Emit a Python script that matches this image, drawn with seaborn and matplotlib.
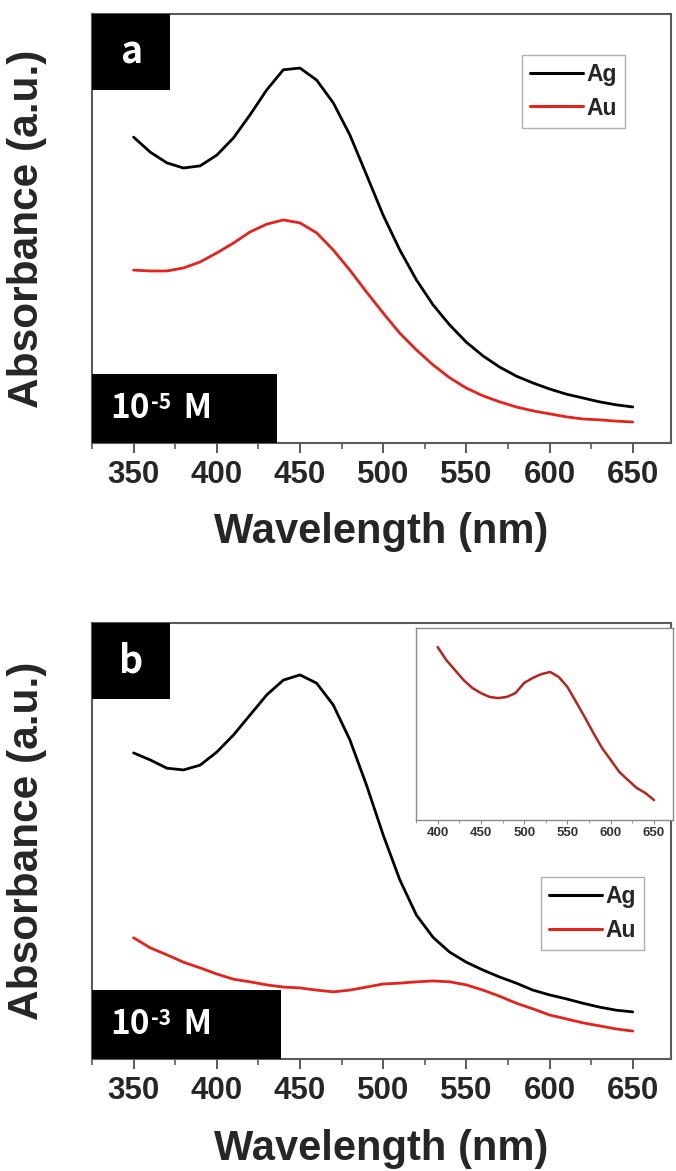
import matplotlib
matplotlib.use("Agg")
import matplotlib.pyplot as plt
import seaborn as sns
import pandas as pd
from matplotlib.patches import Rectangle
from matplotlib.ticker import MultipleLocator

# ---------------- data (arbitrary units) ----------------
wavelength = [350, 360, 370, 380, 390, 400, 410, 420, 430, 440, 450, 460, 470, 480, 490,
              500, 510, 520, 530, 540, 550, 560, 570, 580, 590, 600, 610, 620, 630, 640, 650]

a_ag = [71.3, 67.8, 65.3, 64.1, 64.6, 67.1, 71.1, 76.5, 82.3, 87.0, 87.4, 84.6, 79.3, 71.8, 62.5,
        53.1, 45.0, 38.0, 32.2, 27.5, 23.5, 20.3, 17.7, 15.6, 14.0, 12.6, 11.4, 10.5, 9.6, 8.9, 8.4]
a_au = [40.3, 40.1, 40.1, 40.8, 42.2, 44.3, 46.6, 49.2, 51.0, 52.0, 51.3, 49.0, 45.0, 40.3, 35.2,
        30.3, 25.6, 21.7, 18.2, 15.2, 12.8, 11.0, 9.6, 8.4, 7.5, 6.8, 6.1, 5.6, 5.4, 5.1, 4.9]

b_ag = [70.2, 68.6, 66.7, 66.3, 67.4, 70.4, 74.3, 78.9, 83.5, 86.9, 88.1, 86.2, 81.2, 73.2, 62.8,
        51.4, 41.1, 33.0, 27.9, 24.5, 22.2, 20.4, 18.8, 17.4, 15.8, 14.7, 13.8, 12.8, 11.9, 11.2, 10.8]
b_au = [27.8, 25.5, 23.9, 22.2, 20.9, 19.5, 18.3, 17.7, 17.0, 16.5, 16.3, 15.8, 15.4, 15.8, 16.5,
        17.2, 17.4, 17.7, 17.9, 17.7, 17.0, 15.8, 14.4, 12.8, 11.5, 10.1, 9.2, 8.3, 7.6, 6.9, 6.4]

inset_wl = [400, 410, 420, 430, 440, 450, 460, 470, 480, 490, 500, 510, 520,
            530, 540, 550, 560, 570, 580, 590, 600, 610, 620, 630, 640, 650]
inset_au = [90.1, 83.3, 78.1, 72.9, 68.8, 66.1, 64.1, 63.5, 64.1, 66.1, 71.4, 74.0, 76.0,
            77.1, 74.5, 69.3, 61.5, 53.6, 45.3, 37.5, 31.3, 25.0, 20.8, 16.7, 14.1, 10.4]

metals = ["Ag", "Au"]
panel_labels = ["a", "b"]
conc_labels = [("10", "-5", " M"), ("10", "-3", " M")]
xticks = [350, 400, 450, 500, 550, 600, 650]
inset_xticks = [400, 450, 500, 550, 600, 650]

# ---------------- style ----------------
sns.set_style("ticks")
plt.rcParams["font.family"] = ["Liberation Sans", "DejaVu Sans"]
plt.rcParams["font.weight"] = "bold"
LABEL_FONT = ["Noto Sans CJK KR", "DejaVu Sans"]
RED = "#e3231c"
SPINE = "#5a5a5a"

fig = plt.figure(figsize=(6.76, 11.71), dpi=100)
W, H = 676, 1171


def px_axes(l, t, r, b):
    return fig.add_axes([l / W, 1 - b / H, (r - l) / W, (b - t) / H])


ax_a = px_axes(92, 14, 671, 443)
ax_b = px_axes(92, 623, 671, 1059)

panels = [
    (ax_a, a_ag, a_au, (0.92, 0.904)),
    (ax_b, b_ag, b_au, (0.953, 0.417)),
]

for i, (ax, ag, au, leg_pos) in enumerate(panels):
    df = pd.DataFrame({
        "Wavelength": wavelength * 2,
        "Absorbance": ag + au,
        "metal": ["Ag"] * len(wavelength) + ["Au"] * len(wavelength),
    })
    sns.lineplot(data=df, x="Wavelength", y="Absorbance", hue="metal",
                 palette={"Ag": "black", "Au": RED}, linewidth=2.0, ax=ax,
                 legend=False)
    ax.set_xlim(325, 673)
    ax.set_ylim(0, 100)
    ax.set_xticks(xticks)
    ax.xaxis.set_minor_locator(MultipleLocator(25))
    ax.set_yticks([])
    for s in ax.spines.values():
        s.set_color(SPINE)
        s.set_linewidth(1.5)
    ax.tick_params(axis="x", which="major", length=7, width=1.4, color=SPINE,
                   labelsize=22.5, pad=5, direction="out")
    ax.tick_params(axis="x", which="minor", length=4, width=1.2, color=SPINE,
                   direction="out")
    for lab in ax.get_xticklabels():
        lab.set_fontweight("bold")
    ax.set_xlabel("Wavelength (nm)", fontsize=30, fontweight="bold")
    ax.set_ylabel("Absorbance (a.u.)", fontsize=30.5, fontweight="bold")
    ax.xaxis.set_label_coords(0.5, -0.16)
    ax.yaxis.set_label_coords(-0.078, 0.5)

    # panel letter box
    hpan = 429 if i == 0 else 436
    ax.add_patch(Rectangle((0, 1 - 76 / hpan), 78 / 579, 76 / hpan, transform=ax.transAxes,
                           facecolor="black", edgecolor="none", zorder=5, clip_on=False))
    ax.text(39 / 579, 1 - 38 / hpan, panel_labels[i], transform=ax.transAxes,
            color="white", fontsize=27, fontweight="bold", family=LABEL_FONT,
            ha="center", va="center", zorder=6)

    # concentration box
    wbox = (277 - 92) / 579 if i == 0 else (281 - 92) / 579
    ax.add_patch(Rectangle((0, 0), wbox, 69 / hpan, transform=ax.transAxes,
                           facecolor="black", edgecolor="none", zorder=5, clip_on=False))
    base, sup, tail = conc_labels[i]
    t1 = ax.text(18 / 579, 34 / hpan, base, transform=ax.transAxes, color="white",
                 fontsize=24, fontweight="bold", family=LABEL_FONT,
                 ha="left", va="center", zorder=6)
    ax.annotate(sup, xy=(1, 0.5), xycoords=t1, xytext=(1, 5), textcoords="offset points",
                color="white", fontsize=15, fontweight="bold", family=LABEL_FONT,
                ha="left", va="center", zorder=6)
    ax.annotate(tail, xy=(1, 0.5), xycoords=t1, xytext=(19, 0), textcoords="offset points",
                color="white", fontsize=24, fontweight="bold", family=LABEL_FONT,
                ha="left", va="center", zorder=6)

    # legend
    handles = [plt.Line2D([], [], color="black", lw=2.2), plt.Line2D([], [], color=RED, lw=2.2)]
    leg = ax.legend(handles, metals, loc="upper right", bbox_to_anchor=leg_pos,
                    fontsize=16.5, frameon=True, fancybox=False, handlelength=2.3,
                    handletextpad=0.15, borderpad=0.35, labelspacing=0.45,
                    borderaxespad=0)
    leg.get_frame().set_edgecolor("#9a9a9a")
    leg.get_frame().set_linewidth(1.0)
    for t in leg.get_texts():
        t.set_fontweight("bold")

# ---------------- inset ----------------
ax_in = px_axes(416, 628, 673, 820)
df_in = pd.DataFrame({"Wavelength": inset_wl, "Absorbance": inset_au})
sns.lineplot(data=df_in, x="Wavelength", y="Absorbance", color="#b3261e", linewidth=1.8, ax=ax_in)
ax_in.set_xlim(375, 672)
ax_in.set_ylim(0, 100)
ax_in.set_xticks(inset_xticks)
ax_in.xaxis.set_minor_locator(MultipleLocator(25))
ax_in.set_yticks([])
ax_in.set_xlabel("")
ax_in.set_ylabel("")
for s in ax_in.spines.values():
    s.set_color("#8a8a8a")
    s.set_linewidth(1.0)
ax_in.tick_params(axis="x", which="major", length=3, width=0.8, color="#8a8a8a",
                  labelsize=9.5, pad=2, labelcolor="#333333")
ax_in.tick_params(axis="x", which="minor", length=2, width=0.6, color="#8a8a8a")
for lab in ax_in.get_xticklabels():
    lab.set_fontweight("bold")

fig.savefig("out.png", dpi=100)
